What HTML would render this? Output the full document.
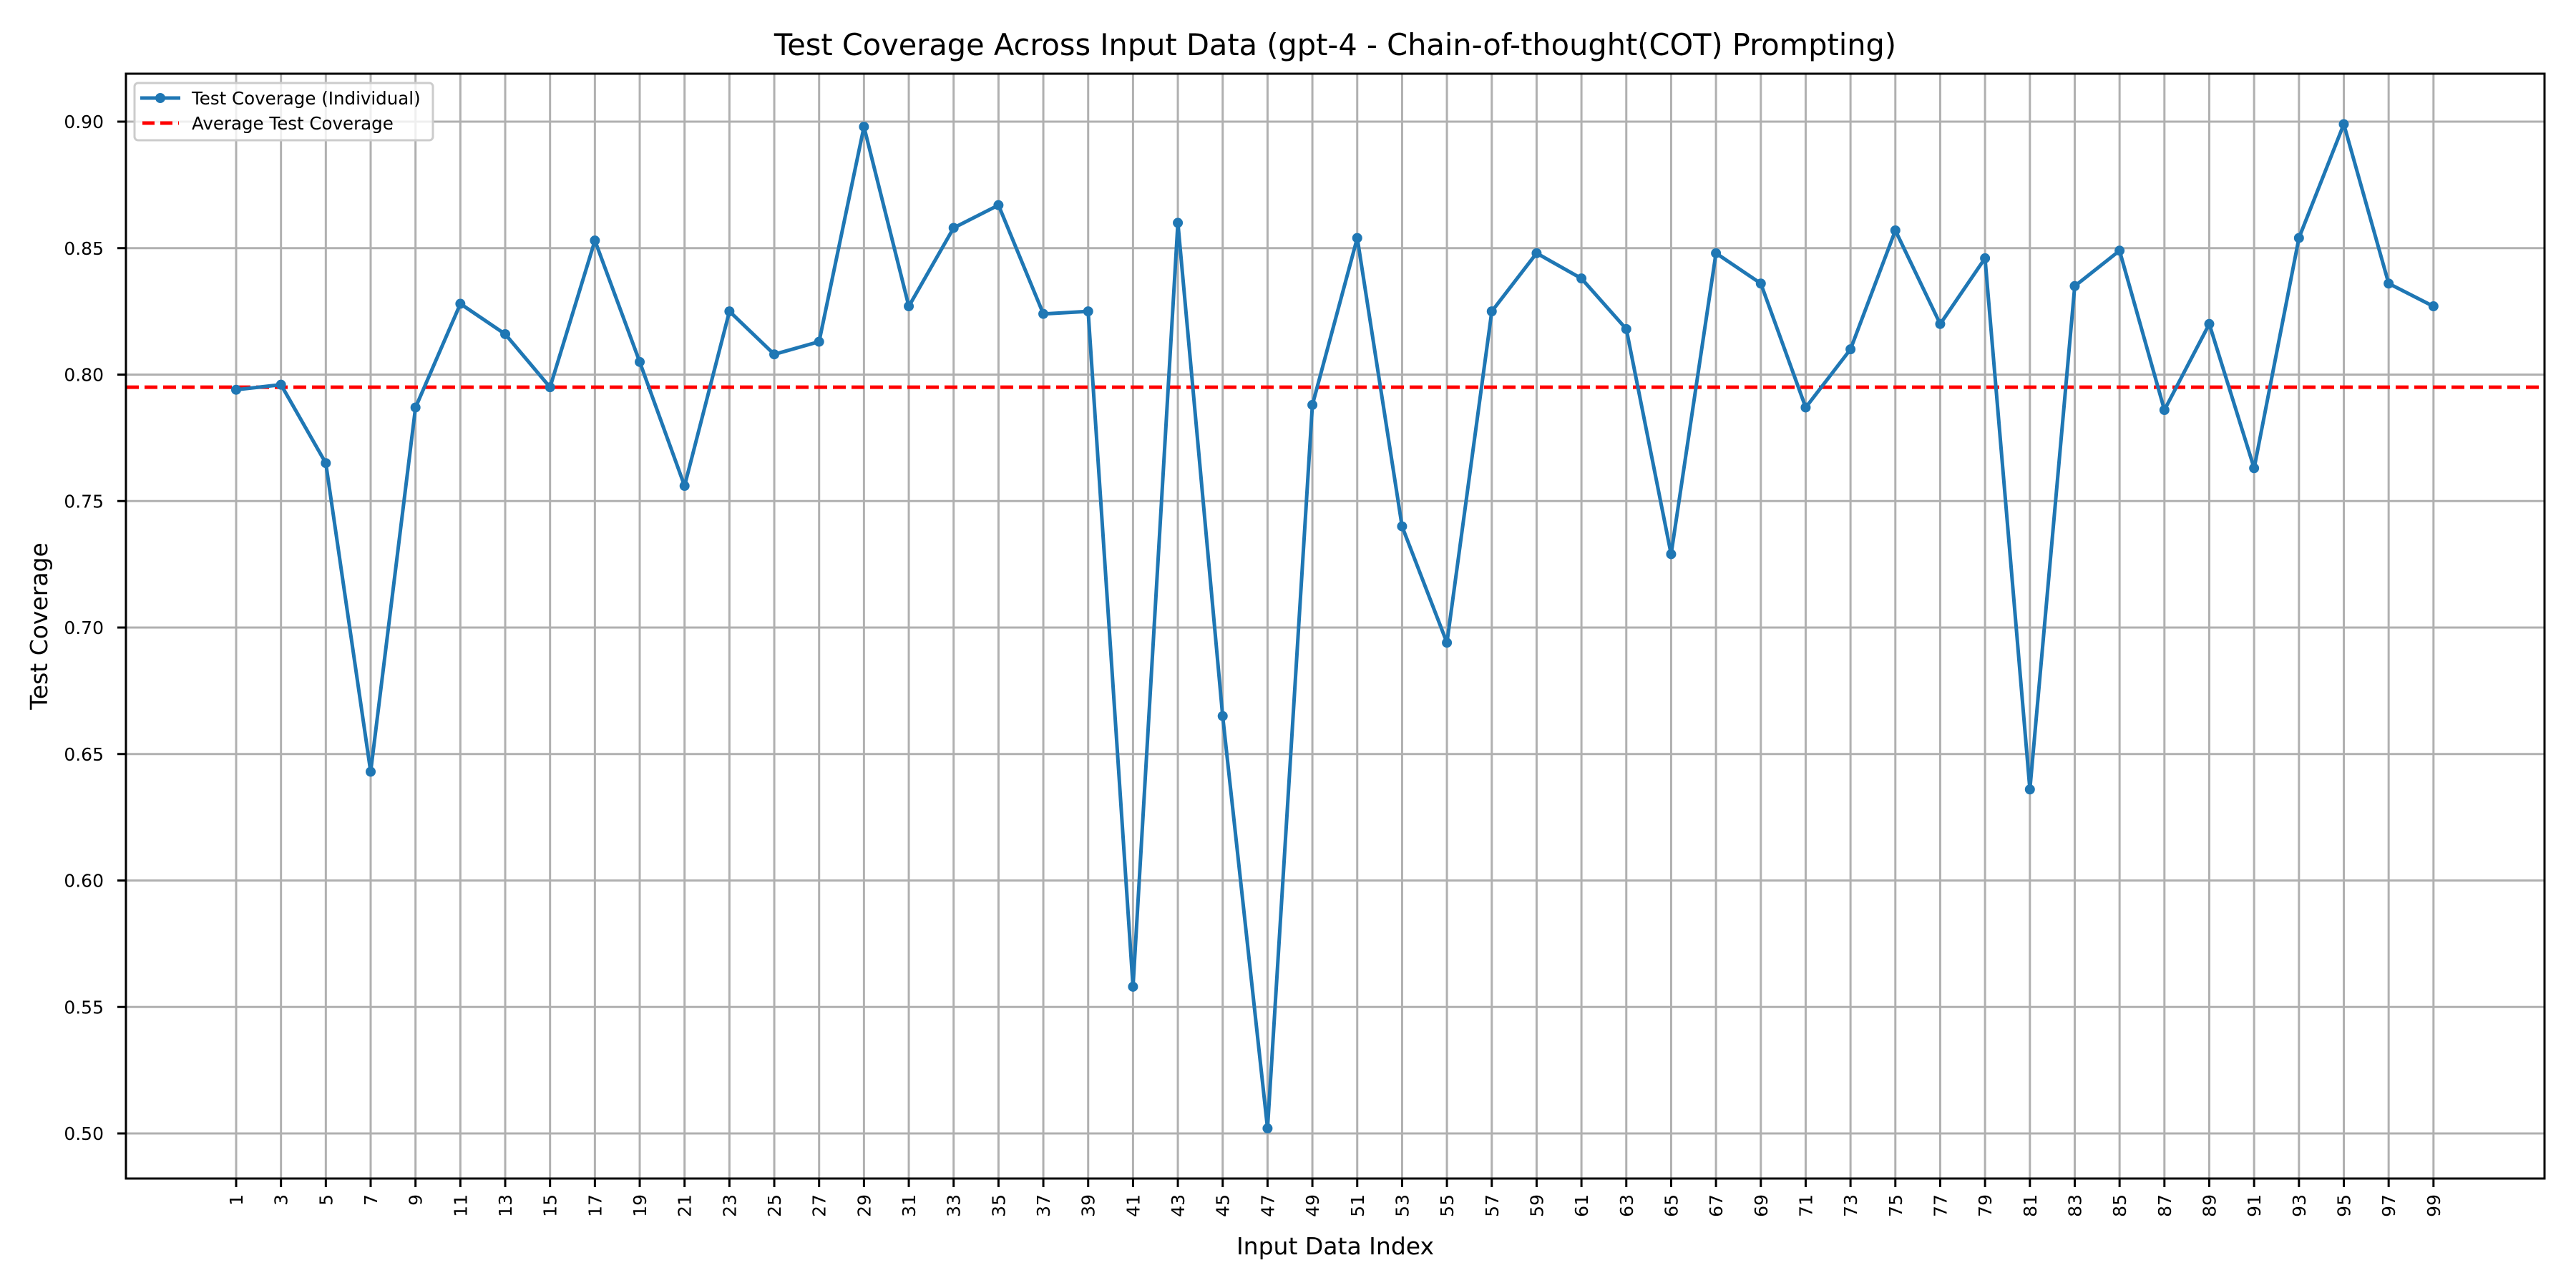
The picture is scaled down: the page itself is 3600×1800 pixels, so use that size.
<!DOCTYPE html>
<html><head><meta charset="utf-8"><style>
body{margin:0;background:#fff}
svg{display:block;font-family:"DejaVu Sans","Liberation Sans",sans-serif}
</style></head><body>
<svg id="chart" width="3600" height="1800" viewBox="0 0 3600 1800">
<rect width="3600" height="1800" fill="#fff"/>
<g id="grid"></g>
<g id="ticks"></g>
<g id="series"></g>
<rect x="176" y="103" width="3380" height="1544" fill="none" stroke="#000" stroke-width="3"/>
<text x="1866" y="77" text-anchor="middle" font-size="41.5">Test Coverage Across Input Data (gpt-4 - Chain-of-thought(COT) Prompting)</text>
<text x="1866" y="1753" text-anchor="middle" font-size="33">Input Data Index</text>
<text transform="translate(66,875) rotate(-90)" text-anchor="middle" font-size="33">Test Coverage</text>
<g>
<rect x="188" y="116" width="417" height="80" rx="5" fill="#fff" fill-opacity="0.8" stroke="#ccc" stroke-width="3"/>
<line x1="196" y1="137" x2="252" y2="137" stroke="#1f77b4" stroke-width="5"/>
<circle cx="224" cy="137" r="7" fill="#1f77b4"/>
<text x="268" y="146" font-size="24.5">Test Coverage (Individual)</text>
<line x1="199" y1="172" x2="250" y2="172" stroke="#f00" stroke-width="5" stroke-dasharray="17,8"/>
<text x="268" y="181" font-size="24.5">Average Test Coverage</text>
</g>
</svg>
<script>
const indices = [];
for (let i = 1; i <= 99; i += 2) indices.push(i);
const coverage = [0.794,0.796,0.765,0.643,0.787,0.828,0.816,0.795,0.853,0.805,
0.756,0.825,0.808,0.813,0.898,0.827,0.858,0.867,0.824,0.825,
0.558,0.860,0.665,0.502,0.788,0.854,0.740,0.694,0.825,0.848,
0.838,0.818,0.729,0.848,0.836,0.787,0.810,0.857,0.820,0.846,
0.636,0.835,0.849,0.786,0.820,0.763,0.854,0.899,0.836,0.827];
const average = 0.795;
const yTicks = [0.50,0.55,0.60,0.65,0.70,0.75,0.80,0.85,0.90];
const yTickLabels = ["0.50","0.55","0.60","0.65","0.70","0.75","0.80","0.85","0.90"];

const NS = "http://www.w3.org/2000/svg";
const L = 176, R = 3556, T = 103, B = 1647;
function xs(v){ return 330 + (v - 1) * 31.335; }
function ys(v){ return 1584 - (v - 0.5) * (1584 - 170) / 0.4; }
function mk(tag, attrs, parent){
  const e = document.createElementNS(NS, tag);
  for (const k in attrs) e.setAttribute(k, attrs[k]);
  parent.appendChild(e); return e;
}
const grid = document.getElementById('grid');
const ticks = document.getElementById('ticks');
const series = document.getElementById('series');

yTicks.forEach((v, i) => {
  const y = ys(v);
  const g = mk('line', {x1:L, x2:R, y1:y, y2:y, stroke:'#b0b0b0', 'stroke-width':3}, grid);
  
  
  const t = mk('line', {x1:L-12, x2:L, y1:y, y2:y, stroke:'#000', 'stroke-width':3}, ticks);
  
  
  const tx = mk('text', {x:L-31, y:y+9, 'text-anchor':'end', 'font-size':25}, ticks);
  tx.textContent = yTickLabels[i];
  
  
});
indices.forEach(v => {
  const x = xs(v);
  const g = mk('line', {x1:x, x2:x, y1:T, y2:B, stroke:'#b0b0b0', 'stroke-width':3}, grid);
  
  
  const t = mk('line', {x1:x, x2:x, y1:B, y2:B+12, stroke:'#000', 'stroke-width':3}, ticks);
  
  
  const tx = mk('text', {transform:`translate(${x+9},${B+22}) rotate(-90)`, 'text-anchor':'end', 'font-size':25}, ticks);
  tx.textContent = String(v);
  
  
});
const avg = mk('line', {x1:L, x2:R, y1:ys(average), y2:ys(average), stroke:'#f00', 'stroke-width':5, 'stroke-dasharray':'18,8'}, series);


const pts = coverage.map((c, i) => xs(indices[i]).toFixed(1) + ',' + ys(c).toFixed(1)).join(' ');
const pl = mk('polyline', {points:pts, fill:'none', stroke:'#1f77b4', 'stroke-width':5, 'stroke-linejoin':'round'}, series);


coverage.forEach((c, i) => {
  const p = mk('circle', {cx:xs(indices[i]), cy:ys(c), r:7, fill:'#1f77b4'}, series);
  
  
});
</script>
</body></html>
